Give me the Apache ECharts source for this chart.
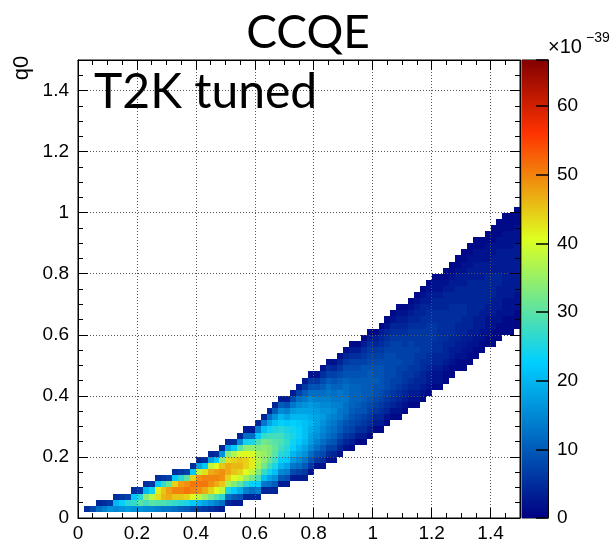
<!DOCTYPE html>
<html>
<head>
<meta charset="utf-8">
<script src="https://cdn.jsdelivr.net/npm/echarts/dist/echarts.min.js"></script>
<style>
html,body{margin:0;padding:0;background:#ffffff;}
#c{width:611px;height:548px;}
</style>
</head>
<body>
<div id="c"></div>
<script>
// ---------------- data ----------------
const chartTitle = 'CCQE';
const tuneLabel = 'T2K tuned';
const yAxisTitle = 'q0';
const zExponentBase = '×10';
const zExponent = '−39';

const xTickLabels = ['0', '0.2', '0.4', '0.6', '0.8', '1', '1.2', '1.4'];
const yTickLabels = ['0', '0.2', '0.4', '0.6', '0.8', '1', '1.2', '1.4'];
const zTickLabels = ['0', '10', '20', '30', '40', '50', '60'];
const xRange = [0, 1.5];
const yRange = [0, 1.5];
const zMax = 66.7;          // top of the colour scale (units of 1e-39)

// histogram: bins of 0.02 in q (x) and q0 (y)
const firstColumn = 1;      // first non-empty q bin (0.02-0.04)
// row index (q0 bin) of the lowest filled cell in each column
const columnFirstRow = [
  1,1,1,1,1,1,1,1,1,1, 1,1,1,1,1,1,1,1,1,1, 1,1,1,1,          // cols 1-24
  2,2,2, 3,3,3, 4,4,4, 5,5, 6,6,6, 7, 8,8, 9,9, 10, 11,11,     // cols 25-46
  12,12, 13, 14,14, 15, 16,16, 17, 18,18, 19, 20, 21,21, 22,   // cols 47-62
  23, 24,24, 25, 26, 27, 28,28, 29, 30,30, 31                  // cols 63-74
];
// cell contents (x1e-39), bottom to top, one list per q column
const columnCells = [
  [5],                                                   // 1
  [8],                                                   // 2
  [12, 4],                                               // 3
  [14, 5],                                               // 4
  [16, 6],                                               // 5
  [15, 20, 5],                                           // 6
  [16, 23, 6],                                           // 7
  [17, 26, 7],                                           // 8
  [16, 27, 22, 5],                                       // 9
  [16, 30, 26, 6],                                       // 10
  [15, 28, 34, 20, 5],                                   // 11
  [15, 30, 38, 24, 6],                                   // 12
  [14, 29, 43, 42, 22, 5],                               // 13
  [13, 29, 46, 45, 27, 6],                               // 14
  [13, 28, 47, 48, 31, 7],                               // 15
  [12, 27, 45, 50, 44, 22, 5],                           // 16
  [11, 26, 45, 50, 48, 26, 6],                           // 17
  [10, 25, 44, 51, 49, 30, 7],                           // 18
  [8, 22, 41, 50, 51, 44, 22, 5],                        // 19
  [7, 20, 38, 49, 51, 49, 38, 18, 4],                    // 20
  [6, 18, 35, 47, 51, 50, 43, 22, 5],                    // 21
  [5, 16, 32, 44, 49, 50, 47, 38, 18, 4],                // 22
  [4, 14, 29, 41, 47, 50, 48, 41, 22, 5],                // 23
  [3, 12, 26, 38, 45, 49, 49, 45, 34, 16, 4],            // 24
  [4, 12, 25, 36, 44, 47, 47, 43, 34, 18, 4],            // 25
  [3, 10, 22, 33, 41, 45, 46, 44, 37, 22, 5],            // 26
  [3, 9, 19, 30, 39, 44, 46, 45, 40, 30, 15, 4],         // 27
  [4, 14, 26, 35, 41, 44, 44, 41, 34, 24, 12, 3],        // 28
  [4, 12, 23, 32, 38, 42, 42, 40, 34, 25, 12, 3],        // 29
  [4, 14, 22, 29, 33, 36, 37, 36, 33, 29, 22, 14, 4],    // 30
  [4, 13, 21, 27, 32, 34, 35, 34, 32, 27, 21, 13, 4],    // 31
  [4, 12, 18, 24, 28, 31, 33, 33, 31, 28, 24, 18, 12, 4],            // 32
  [4, 10, 16, 21, 25, 28, 30, 31, 30, 28, 25, 21, 16, 10, 4],        // 33
  [3, 10, 15, 20, 23, 26, 28, 29, 28, 26, 23, 20, 15, 10, 3],        // 34
  [3, 9, 14, 18, 22, 25, 26, 27, 26, 25, 22, 18, 14, 9, 3],          // 35
  [3, 8, 13, 17, 20, 23, 24, 25, 24, 23, 20, 17, 13, 8, 3],          // 36
  [3, 7, 12, 15, 18, 20, 22, 23, 23, 22, 20, 18, 15, 12, 7, 3],      // 37
  [3, 6, 10, 13, 16, 18, 20, 21, 21, 21, 20, 18, 16, 13, 10, 6, 3],  // 38
  [2, 6, 9, 12, 15, 17, 18, 19, 20, 19, 18, 17, 15, 12, 9, 6, 2],    // 39
  [2, 6, 9, 12, 14, 16, 17, 18, 18, 17, 16, 14, 12, 9, 6, 2],        // 40
  [2, 5, 8, 10, 12, 14, 15, 16, 17, 16, 15, 14, 12, 10, 8, 5, 2],    // 41
  [2, 5, 7, 10, 12, 13, 14, 15, 16, 15, 14, 13, 12, 10, 7, 5, 2],    // 42
  [2, 4, 7, 9, 11, 12, 13, 14, 15, 14, 13, 12, 11, 9, 7, 4, 2],      // 43
  [2, 4, 6, 8, 10, 11, 13, 13, 14, 13, 13, 11, 10, 8, 6, 4, 2],      // 44
  [2, 4, 6, 8, 9, 11, 12, 12, 13, 12, 12, 11, 9, 8, 6, 4, 2],        // 45
  [1, 3, 5, 7, 8, 9, 10, 11, 11, 11, 11, 10, 9, 8, 7, 5, 3, 1],      // 46
  [1, 3, 5, 7, 8, 9, 10, 11, 11, 11, 10, 9, 8, 7, 5, 3, 1],          // 47
  [1, 3, 5, 6, 7, 9, 9, 10, 10, 10, 10, 9, 9, 7, 6, 5, 3, 1],        // 48
  [1, 3, 5, 6, 7, 8, 9, 10, 10, 10, 10, 9, 8, 7, 6, 5, 3, 1],        // 49
  [1, 3, 4, 6, 7, 8, 9, 9, 10, 9, 9, 8, 7, 6, 4, 3, 1],              // 50
  [1, 3, 4, 5, 6, 7, 8, 9, 9, 9, 9, 8, 7, 6, 5, 4, 3, 1],            // 51
  [1, 2, 4, 5, 6, 7, 8, 8, 8, 8, 8, 8, 7, 6, 5, 4, 2, 1],            // 52
  [1, 2, 4, 5, 6, 7, 7, 8, 8, 8, 8, 7, 7, 6, 5, 4, 2, 1],            // 53
  [1, 2, 3, 4, 5, 6, 7, 7, 7, 8, 7, 7, 7, 6, 5, 4, 3, 2, 1],         // 54
  [1, 2, 3, 4, 5, 6, 6, 7, 7, 7, 7, 6, 6, 5, 4, 3, 2, 1],            // 55
  [1, 2, 3, 4, 5, 6, 6, 7, 7, 7, 7, 6, 6, 5, 4, 3, 2, 1],            // 56
  [1, 2, 3, 4, 4, 5, 6, 6, 6, 7, 6, 6, 6, 5, 4, 4, 3, 2, 1],         // 57
  [1, 2, 3, 4, 4, 5, 5, 6, 6, 6, 6, 6, 5, 5, 4, 4, 3, 2, 1],         // 58
  [1, 2, 3, 3, 4, 5, 5, 6, 6, 6, 6, 6, 5, 5, 4, 3, 3, 2, 1],         // 59
  [1, 2, 2, 3, 4, 4, 5, 5, 6, 6, 6, 5, 5, 4, 4, 3, 2, 2, 1],         // 60
  [1, 2, 2, 3, 4, 4, 5, 5, 5, 5, 5, 5, 5, 4, 4, 3, 2, 2, 1],         // 61
  [1, 1, 2, 3, 4, 4, 4, 5, 5, 5, 5, 5, 4, 4, 4, 3, 2, 1, 1],         // 62
  [1, 1, 2, 3, 3, 4, 4, 5, 5, 5, 5, 5, 4, 4, 3, 3, 2, 1, 1],         // 63
  [1, 1, 2, 3, 3, 4, 4, 4, 5, 5, 5, 4, 4, 4, 3, 3, 2, 1, 1],         // 64
  [1, 1, 2, 2, 3, 3, 4, 4, 4, 5, 5, 4, 4, 4, 3, 3, 2, 2, 1, 1],      // 65
  [1, 1, 2, 2, 3, 3, 4, 4, 4, 4, 4, 4, 4, 4, 3, 3, 2, 2, 1, 1],      // 66
  [1, 1, 2, 2, 3, 3, 3, 4, 4, 4, 4, 4, 4, 3, 3, 3, 2, 2, 1, 1],      // 67
  [1, 1, 2, 2, 3, 3, 3, 4, 4, 4, 4, 4, 3, 3, 3, 2, 2, 1, 1],         // 68
  [1, 1, 2, 2, 2, 3, 3, 4, 4, 4, 4, 4, 3, 3, 2, 2, 2, 1, 1],         // 69
  [1, 1, 1, 2, 2, 3, 3, 3, 4, 4, 4, 4, 3, 3, 3, 2, 2, 1, 1, 1],      // 70
  [1, 1, 1, 2, 2, 3, 3, 3, 3, 4, 4, 3, 3, 3, 3, 2, 2, 1, 1, 1],      // 71
  [1, 1, 1, 2, 2, 2, 3, 3, 3, 3, 3, 3, 3, 3, 2, 2, 2, 1, 1, 1],      // 72
  [1, 1, 1, 2, 2, 2, 3, 3, 3, 3, 3, 3, 3, 3, 2, 2, 2, 1, 1, 1],      // 73
  [1, 1, 1, 2, 2, 2, 3, 3, 3, 3, 3, 3, 3, 3, 2, 2, 2, 1, 1, 1]       // 74
];

// ---------------- style / config ----------------
const BIN = 0.02;
const palette = [            // ROOT-like jet palette (fraction, rgb)
  [0.00, [0, 0, 130]],
  [0.34, [0, 207, 255]],
  [0.61, [222, 255, 31]],
  [0.84, [255, 51, 0]],
  [1.00, [130, 0, 0]]
];
function colorFor(v) {
  let t = Math.max(0, Math.min(1, v / zMax));
  for (let i = 1; i < palette.length; i++) {
    if (t <= palette[i][0]) {
      const a = palette[i - 1], b = palette[i];
      const f = (t - a[0]) / (b[0] - a[0]);
      const c = a[1].map((ca, k) => Math.round(ca + (b[1][k] - ca) * f));
      return 'rgb(' + c.join(',') + ')';
    }
  }
  return 'rgb(' + palette[palette.length - 1][1].join(',') + ')';
}

// build the cell table
const cells = [];
columnCells.forEach((vals, k) => {
  const col = firstColumn + k;
  const row0 = columnFirstRow[k];
  vals.forEach((v, j) => {
    cells.push([col * BIN, (row0 + j) * BIN, v]);
  });
});

const FONT = 'Liberation Sans, Arial, Helvetica, sans-serif';
const TITLE_FONT = 'Lato, "Open Sans", sans-serif';

function labelMatch(list, v) {
  const s = String(Number(v.toFixed(2)));
  return list.indexOf(s) >= 0 ? s : '';
}

function axisCommon(extra) {
  return Object.assign({
    type: 'value',
    axisLine: { show: false, onZero: false },
    axisTick: { show: true, inside: true, length: 5, lineStyle: { color: '#000', width: 1 } },
    axisLabel: { show: false },
    splitLine: { show: false }
  }, extra);
}

const majorTick = { show: true, inside: true, length: 10, lineStyle: { color: '#000', width: 1 } };
const gridLine = { show: true, lineStyle: { color: '#555', width: 1, type: [1, 2] } };

const xAxes = [
  axisCommon({ gridIndex: 0, min: xRange[0], max: xRange[1], interval: 0.2, position: 'bottom', z: 5,
    axisLine: { show: true, onZero: false, lineStyle: { color: '#000', width: 1 } },
    axisTick: majorTick,
    axisLabel: { show: true, fontSize: 19, color: '#000', fontFamily: FONT, margin: 6,
      formatter: v => labelMatch(xTickLabels, v) },
    splitLine: gridLine }),
  axisCommon({ gridIndex: 0, min: xRange[0], max: xRange[1], interval: 0.05, position: 'bottom', z: 5 }),
  axisCommon({ gridIndex: 0, min: xRange[0], max: xRange[1], interval: 0.2, position: 'top', z: 5,
    axisLine: { show: true, onZero: false, lineStyle: { color: '#000', width: 1 } },
    axisTick: majorTick }),
  axisCommon({ gridIndex: 0, min: xRange[0], max: xRange[1], interval: 0.05, position: 'top', z: 5 }),
  { type: 'value', gridIndex: 1, min: 0, max: 1, show: false }
];
const yAxes = [
  axisCommon({ gridIndex: 0, min: yRange[0], max: yRange[1], interval: 0.2, position: 'left', z: 5,
    axisLine: { show: true, onZero: false, lineStyle: { color: '#000', width: 1 } },
    axisTick: majorTick,
    axisLabel: { show: true, fontSize: 19, color: '#000', fontFamily: FONT, margin: 9,
      formatter: v => labelMatch(yTickLabels, v) },
    splitLine: gridLine }),
  axisCommon({ gridIndex: 0, min: yRange[0], max: yRange[1], interval: 0.05, position: 'left', z: 5 }),
  axisCommon({ gridIndex: 0, min: yRange[0], max: yRange[1], interval: 0.2, position: 'right', z: 5,
    axisLine: { show: true, onZero: false, lineStyle: { color: '#000', width: 1 } },
    axisTick: majorTick }),
  axisCommon({ gridIndex: 0, min: yRange[0], max: yRange[1], interval: 0.05, position: 'right', z: 5 }),
  axisCommon({ gridIndex: 1, min: 0, max: zMax, interval: 10, position: 'right', z: 5,
    axisLine: { show: true, onZero: false, lineStyle: { color: '#000', width: 1 } },
    axisTick: { show: true, inside: true, length: 12, lineStyle: { color: '#000', width: 1.5 } },
    axisLabel: { show: true, fontSize: 19, color: '#000', fontFamily: FONT, margin: 9,
      formatter: v => labelMatch(zTickLabels, v) } })
];

const chart = echarts.init(document.getElementById('c'), null, { renderer: 'canvas', width: 611, height: 548 });

chart.setOption({
  animation: false,
  backgroundColor: '#ffffff',
  grid: [
    { left: 78, top: 60, width: 442, height: 458, show: true, borderColor: '#000', borderWidth: 1, backgroundColor: 'transparent' },
    { left: 522, top: 60, width: 26, height: 458, show: true, borderColor: '#000', borderWidth: 1, backgroundColor: 'transparent' }
  ],
  xAxis: xAxes,
  yAxis: yAxes,
  series: [
    {
      type: 'custom',
      coordinateSystem: 'cartesian2d',
      xAxisIndex: 0, yAxisIndex: 0,
      z: 2,
      silent: true,
      data: cells,
      renderItem: function (params, api) {
        const x0 = api.value(0), y0 = api.value(1), v = api.value(2);
        const p0 = api.coord([x0, y0]);
        const p1 = api.coord([x0 + BIN, y0 + BIN]);
        const L = Math.round(p0[0]), R = Math.round(p1[0]);
        const T = Math.round(p1[1]), B = Math.round(p0[1]);
        return {
          type: 'rect',
          shape: { x: L, y: T, width: R - L, height: B - T },
          style: { fill: colorFor(v) }
        };
      }
    },
    {
      type: 'custom',
      coordinateSystem: 'cartesian2d',
      xAxisIndex: 4, yAxisIndex: 4,
      z: 2,
      silent: true,
      data: [[0, 0]],
      renderItem: function (params, api) {
        const p0 = api.coord([0, 0]);
        const p1 = api.coord([1, zMax]);
        const stops = palette.map(s => ({ offset: s[0], color: 'rgb(' + s[1].join(',') + ')' }));
        return {
          type: 'rect',
          shape: { x: p0[0], y: p1[1], width: p1[0] - p0[0], height: p0[1] - p1[1] },
          style: { fill: new echarts.graphic.LinearGradient(0, 1, 0, 0, stops) }
        };
      }
    }
  ],
  graphic: [
    { type: 'text', x: 308, y: 33, z: 20,
      style: { text: chartTitle, fontSize: 46, fontFamily: TITLE_FONT, fill: '#000', align: 'center', verticalAlign: 'middle' } },
    { type: 'text', x: 94, y: 93, z: 20,
      style: { text: tuneLabel, fontSize: 48, fontFamily: TITLE_FONT, fill: '#000', align: 'left', verticalAlign: 'middle' } },
    { type: 'text', x: 22, y: 68, rotation: Math.PI / 2, z: 20,
      style: { text: yAxisTitle, fontSize: 22, fontFamily: FONT, fill: '#000', align: 'center', verticalAlign: 'middle' } },
    { type: 'text', x: 548, y: 47, z: 20,
      style: { text: zExponentBase, fontSize: 20, fontFamily: FONT, fill: '#000', align: 'left', verticalAlign: 'middle' } },
    { type: 'text', x: 586, y: 38, z: 20,
      style: { text: zExponent, fontSize: 14, fontFamily: FONT, fill: '#000', align: 'left', verticalAlign: 'middle' } }
  ]
});
</script>
</body>
</html>
